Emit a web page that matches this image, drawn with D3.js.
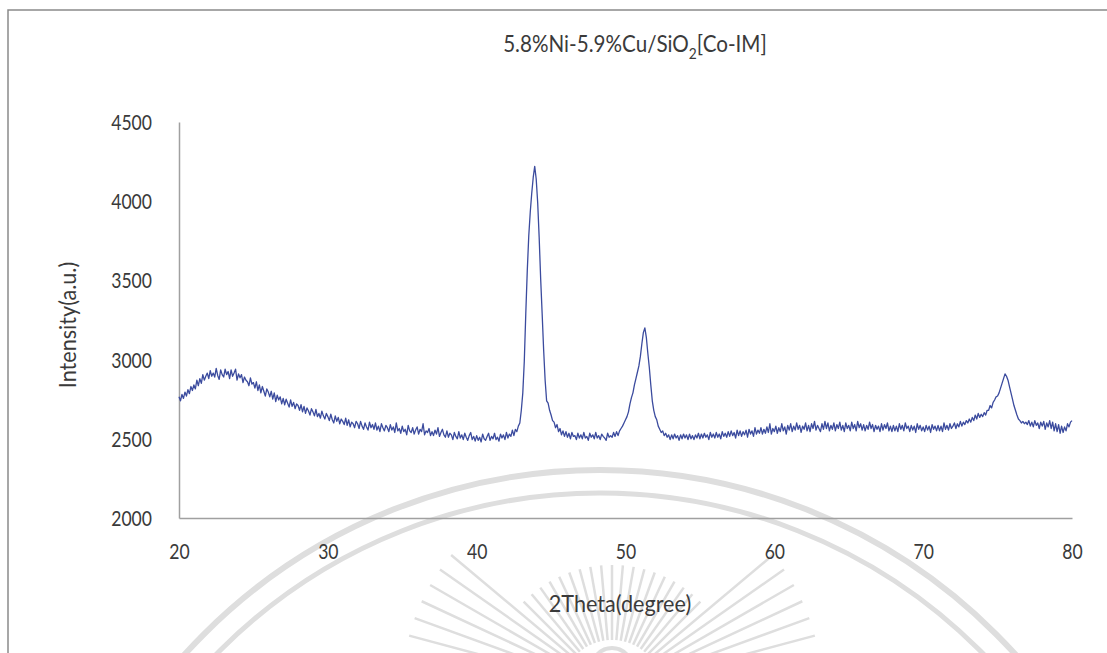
<!DOCTYPE html>
<html>
<head>
<meta charset="utf-8">
<script src="https://cdn.jsdelivr.net/npm/d3@7"></script>
<style>
  html, body { margin: 0; padding: 0; background: #fff; }
  svg { display: block; }
  text { font-family: Lato, "Open Sans", sans-serif; fill: #3a3a3a; }
</style>
</head>
<body>
<svg id="chart" width="1107" height="653"></svg>
<script>
// XRD pattern, 2θ = 20.0° … 80.0° in 0.1° steps (one row per degree)
const thetaStart = 20, thetaStep = 0.1;
const intensity = [
  2765,2740,2780,2755,2795,2770,2810,2785,2830,2805,
  2840,2815,2870,2835,2880,2850,2905,2870,2895,2915,
  2880,2930,2895,2915,2890,2945,2900,2875,2935,2905,
  2890,2940,2905,2925,2880,2935,2895,2915,2940,2870,
  2910,2885,2905,2855,2890,2870,2860,2835,2885,2845,
  2855,2820,2860,2805,2840,2790,2830,2800,2770,2815,
  2795,2765,2800,2750,2790,2735,2775,2745,2765,2720,
  2755,2715,2750,2725,2700,2745,2705,2730,2690,2720,
  2710,2680,2715,2670,2705,2660,2695,2675,2650,2690,
  2670,2645,2685,2640,2660,2630,2675,2645,2625,2660,
  2640,2615,2655,2620,2600,2645,2610,2635,2595,2625,
  2610,2590,2630,2585,2620,2575,2605,2595,2570,2610,
  2595,2565,2610,2580,2560,2600,2575,2555,2605,2570,
  2590,2560,2600,2555,2580,2545,2595,2570,2550,2585,
  2570,2545,2590,2555,2575,2540,2600,2550,2565,2535,
  2580,2545,2560,2525,2585,2550,2540,2570,2530,2555,
  2575,2530,2560,2545,2595,2525,2550,2540,2565,2520,
  2545,2520,2555,2530,2570,2515,2540,2560,2525,2510,
  2550,2510,2535,2525,2495,2540,2515,2500,2545,2505,
  2525,2495,2535,2510,2490,2520,2540,2495,2515,2485,
  2520,2490,2510,2480,2530,2500,2490,2515,2535,2490,
  2515,2500,2535,2495,2510,2485,2530,2505,2525,2495,
  2540,2505,2530,2515,2555,2520,2560,2545,2580,2600,
  2680,2790,2990,3290,3560,3780,3930,4050,4150,4220,
  4140,3990,3770,3510,3290,3060,2870,2740,2725,2680,
  2650,2615,2605,2570,2590,2545,2565,2525,2550,2515,
  2545,2510,2535,2500,2540,2515,2520,2495,2535,2505,
  2525,2500,2540,2505,2515,2490,2535,2510,2525,2500,
  2540,2505,2520,2495,2530,2515,2505,2490,2535,2510,
  2520,2510,2540,2515,2545,2520,2550,2565,2580,2600,
  2620,2640,2670,2720,2760,2790,2840,2880,2920,2960,
  3020,3100,3170,3200,3140,3040,2950,2840,2740,2680,
  2640,2620,2580,2560,2540,2550,2520,2535,2510,2525,
  2495,2525,2500,2530,2505,2520,2490,2525,2500,2530,
  2505,2525,2495,2530,2500,2520,2495,2525,2505,2535,
  2500,2530,2505,2535,2510,2525,2495,2540,2510,2530,
  2505,2540,2510,2530,2500,2545,2515,2535,2510,2545,
  2515,2550,2520,2540,2505,2555,2520,2550,2515,2545,
  2525,2555,2510,2560,2530,2550,2515,2570,2530,2555,
  2535,2570,2530,2560,2535,2575,2540,2595,2530,2565,
  2545,2580,2535,2570,2545,2595,2550,2575,2530,2585,
  2555,2595,2545,2580,2555,2600,2560,2585,2540,2580,
  2560,2600,2550,2585,2545,2595,2565,2610,2555,2585,
  2565,2545,2595,2560,2610,2565,2600,2550,2585,2560,
  2600,2550,2590,2565,2605,2555,2585,2545,2600,2565,
  2585,2550,2605,2565,2590,2550,2610,2570,2595,2555,
  2590,2550,2585,2560,2605,2565,2590,2545,2585,2560,
  2580,2545,2595,2555,2590,2565,2600,2550,2580,2545,
  2585,2550,2580,2545,2595,2560,2585,2550,2600,2565,
  2580,2545,2585,2555,2580,2540,2595,2560,2585,2550,
  2575,2545,2585,2555,2580,2540,2590,2560,2580,2550,
  2585,2550,2580,2545,2600,2560,2585,2555,2595,2565,
  2580,2600,2565,2595,2575,2610,2580,2605,2590,2615,
  2600,2625,2605,2635,2615,2650,2625,2660,2635,2655,
  2640,2665,2650,2680,2680,2710,2695,2730,2745,2765,
  2770,2790,2820,2850,2880,2910,2895,2870,2830,2790,
  2750,2710,2680,2650,2625,2615,2600,2610,2595,2605,
  2590,2615,2580,2605,2575,2615,2585,2600,2565,2605,
  2580,2610,2560,2600,2575,2615,2565,2605,2550,2595,
  2545,2590,2535,2580,2540,2575,2550,2595,2575,2605,
  2615
];

const xTicks = [20, 30, 40, 50, 60, 70, 80];
const yTicks = [2000, 2500, 3000, 3500, 4000, 4500];

const titleMain = "5.8%Ni-5.9%Cu/SiO";
const titleSub = "2";
const titleTail = "[Co-IM]";
const xTitle = "2Theta(degree)";
const yTitle = "Intensity(a.u.)";

const svg = d3.select("#chart");
const W = 1107, H = 653;
const plot = { left: 179, right: 1072, top: 122, bottom: 518 };

const x = d3.scaleLinear().domain([20, 80]).range([plot.left, plot.right]);
const y = d3.scaleLinear().domain([2000, 4500]).range([plot.bottom, plot.top]);

// faint seal watermark in the page background
const wm = svg.append("g").attr("fill", "none").attr("stroke", "#dedede");
wm.append("circle").attr("cx", 600).attr("cy", 1030).attr("r", 560).attr("stroke-width", 6);
wm.append("circle").attr("cx", 600).attr("cy", 1030).attr("r", 537).attr("stroke-width", 5);
const rayAngles = d3.range(-75, 76, 5);
const rad = a => a * Math.PI / 180;
wm.selectAll("line.ray").data(rayAngles).join("line")
  .attr("class", "ray")
  .attr("stroke-width", 2.5)
  .attr("x1", a => 612 + 50 * Math.sin(rad(a)))
  .attr("y1", a => 690 - 50 * Math.cos(rad(a)))
  .attr("x2", a => 612 + (Math.abs(a) > 45 ? 210 : 125) * Math.sin(rad(a)))
  .attr("y2", a => 690 - (Math.abs(a) > 45 ? 210 : 125) * Math.cos(rad(a)));
wm.append("circle").attr("cx", 612).attr("cy", 668).attr("r", 20).attr("stroke-width", 4);

// outer frame (top and left edges)
svg.append("path")
  .attr("d", `M8,${H} L8,10 L${W},10`)
  .attr("fill", "none").attr("stroke", "#8a8a8a").attr("stroke-width", 1.5);

// axes
const yAxis = d3.axisLeft(y).tickValues(yTicks).tickSize(0).tickPadding(27).tickFormat(d3.format("d"));
const xAxis = d3.axisBottom(x).tickValues(xTicks).tickSize(0).tickPadding(26).tickFormat(d3.format("d"));

const gy = svg.append("g").attr("transform", `translate(${plot.left},0)`).call(yAxis);
const gx = svg.append("g").attr("transform", `translate(0,${plot.bottom})`).call(xAxis);
[gx, gy].forEach(g => {
  g.select(".domain").attr("stroke", "#a0a0a0").attr("stroke-width", 1.5);
  g.selectAll("text").attr("font-size", 21).attr("fill", "#3a3a3a")
    .style("font-family", "Lato, 'Open Sans', sans-serif")
    .attr("textLength", d => String(d).length * 10.2)
    .attr("lengthAdjust", "spacingAndGlyphs");
});
gy.selectAll("text").attr("dy", "0.36em");

// data line
const line = d3.line()
  .x((d, i) => x(thetaStart + i * thetaStep))
  .y(d => y(d));
svg.append("path")
  .datum(intensity)
  .attr("d", line)
  .attr("fill", "none")
  .attr("stroke", "#3b4b9e")
  .attr("stroke-width", 1.3)
  .attr("stroke-linejoin", "round");

// titles
const title = svg.append("text")
  .attr("transform", "translate(635,52) scale(0.86,1)")
  .attr("text-anchor", "middle")
  .attr("font-size", 24);
title.append("tspan").text(titleMain);
title.append("tspan").attr("font-size", 16).attr("dy", 7).text(titleSub);
title.append("tspan").attr("dy", -7).text(titleTail);

svg.append("text")
  .attr("transform", "translate(620,612) scale(0.9,1)")
  .attr("text-anchor", "middle")
  .attr("font-size", 24)
  .text(xTitle);

svg.append("text")
  .attr("transform", "translate(76,325) rotate(-90) scale(0.9,1)")
  .attr("text-anchor", "middle")
  .attr("font-size", 24)
  .text(yTitle);
</script>
</body>
</html>
